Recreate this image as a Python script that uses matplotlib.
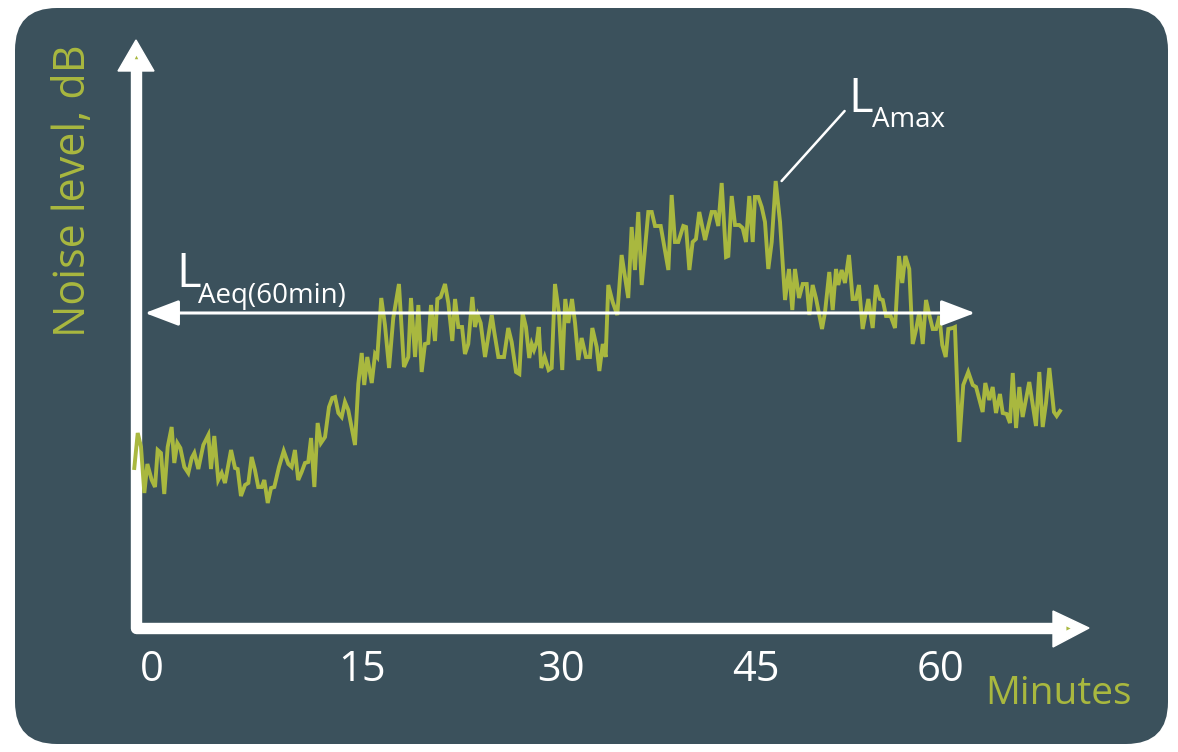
import numpy as np
import matplotlib
matplotlib.use('Agg')
import matplotlib.pyplot as plt
from matplotlib.patches import FancyBboxPatch, Polygon
from matplotlib.transforms import Affine2D, blended_transform_factory

# Noise level readings (minutes, dB)
minutes = [
    -1.19, -0.93, -0.68, -0.43, -0.20, 0.13, 0.38, 0.58, 0.83, 1.08,
    1.34, 1.64, 1.84, 2.07, 2.30, 2.60, 2.90, 3.16, 3.36, 3.66,
    4.04, 4.42, 4.62, 4.87, 5.17, 5.43, 5.68, 6.14, 6.44, 6.64,
    6.89, 7.20, 7.45, 7.70, 7.95, 8.20, 8.46, 8.66, 8.92, 9.17,
    9.42, 9.77, 10.13, 10.48, 10.73, 10.98, 11.23, 11.49, 11.74, 11.99,
    12.20, 12.45, 12.70, 12.95, 13.26, 13.56, 13.81, 14.02, 14.27, 14.52,
    14.77, 15.02, 15.53, 15.78, 16.04, 16.23, 16.46, 16.80, 17.05, 17.22,
    17.52, 17.80, 18.11, 18.43, 18.86, 19.24, 19.57, 19.77, 20.08, 20.33,
    20.58, 20.83, 21.08, 21.29, 21.59, 21.77, 22.02, 22.35, 22.60, 22.90,
    23.11, 23.36, 23.64, 23.86, 24.11, 24.42, 24.62, 24.83, 25.05, 25.38,
    25.89, 26.08, 26.39, 26.82, 27.14, 27.40, 27.73, 27.98, 28.23, 28.48,
    28.73, 28.92, 29.09, 29.30, 29.45, 29.64, 29.90, 30.20, 30.43, 30.68,
    30.98, 31.23, 31.46, 31.69, 31.97, 32.20, 32.45, 32.70, 33.03, 33.33,
    33.51, 33.84, 34.04, 34.30, 34.52, 34.72, 35.05, 35.40, 35.73, 36.23,
    36.49, 36.74, 36.99, 37.25, 37.75, 38.01, 38.26, 38.69, 39.27, 39.52,
    39.77, 40.02, 40.40, 40.61, 40.86, 41.11, 41.36, 41.61, 42.05, 42.55,
    42.80, 43.05, 43.31, 43.64, 43.81, 44.07, 44.32, 44.64, 44.90, 45.15,
    45.40, 45.66, 45.83, 46.08, 46.34, 46.59, 46.84, 47.10, 47.40, 47.73,
    48.11, 48.41, 48.66, 48.86, 49.17, 49.45, 49.75, 49.95, 50.20, 50.45,
    50.91, 51.14, 51.46, 51.72, 51.97, 52.14, 52.40, 52.65, 52.95, 53.23,
    53.48, 53.71, 53.99, 54.42, 54.75, 55.00, 55.30, 55.51, 55.76, 56.11,
    56.44, 56.74, 56.99, 57.22, 57.52, 57.78, 58.03, 58.28, 58.54, 58.79,
    59.04, 59.30, 59.55, 59.80, 60.02, 60.28, 60.48, 60.81, 60.98, 61.31,
    61.61, 61.99, 62.33, 62.58, 63.08, 63.28, 63.58, 63.84, 64.09, 64.39,
    64.60, 64.90, 65.15, 65.36, 65.61, 65.86, 66.11, 66.61, 67.12, 67.37,
    67.63, 67.88, 68.13, 68.48, 68.69, 68.94,
]
level_db = [
    46.2, 49.7, 48.3, 43.7, 46.6, 45.0, 44.3, 48.0, 47.7, 43.6,
    48.3, 50.3, 46.7, 48.7, 48.2, 46.3, 45.7, 47.2, 47.7, 46.1,
    48.5, 49.5, 46.1, 49.4, 45.0, 45.7, 44.7, 48.0, 46.2, 46.1,
    43.4, 44.5, 44.7, 47.3, 46.0, 44.3, 44.3, 45.0, 42.7, 44.2,
    44.3, 46.3, 47.9, 46.6, 46.3, 48.0, 45.0, 45.8, 46.7, 46.8,
    49.2, 44.3, 50.7, 48.7, 49.3, 52.3, 53.2, 53.3, 51.7, 51.3,
    52.8, 52.0, 48.5, 54.6, 57.7, 54.5, 57.3, 54.7, 57.6, 57.3,
    63.2, 60.5, 56.2, 61.2, 64.6, 56.3, 57.3, 63.2, 57.3, 62.5,
    55.8, 58.6, 58.7, 62.5, 58.9, 63.1, 63.3, 64.6, 62.7, 58.9,
    63.1, 60.3, 60.3, 57.6, 58.6, 63.3, 60.3, 61.5, 60.7, 57.3,
    61.5, 59.8, 57.3, 57.3, 60.2, 58.8, 55.8, 55.6, 61.7, 60.3,
    57.2, 58.6, 58.0, 58.8, 60.3, 56.2, 57.3, 56.0, 56.2, 64.6,
    61.7, 56.0, 63.1, 60.7, 63.1, 60.7, 57.0, 59.2, 57.3, 57.3,
    60.2, 58.3, 55.9, 58.6, 57.3, 64.5, 62.8, 61.5, 67.5, 63.2,
    70.3, 66.0, 71.8, 64.5, 71.8, 71.8, 70.4, 70.4, 66.0, 73.5,
    68.8, 68.8, 70.4, 70.3, 66.0, 68.8, 69.1, 71.8, 69.0, 71.8,
    71.8, 70.4, 74.7, 67.3, 67.4, 73.4, 70.5, 70.5, 70.2, 68.8,
    73.4, 68.8, 73.3, 73.3, 72.3, 70.8, 66.1, 68.8, 74.9, 70.8,
    63.0, 66.1, 62.0, 66.1, 63.2, 64.6, 64.6, 61.5, 64.5, 63.2,
    60.1, 61.8, 65.8, 62.0, 66.1, 64.5, 66.0, 64.7, 67.5, 63.1,
    63.1, 64.5, 60.1, 63.1, 60.2, 64.5, 63.1, 63.0, 61.4, 61.4,
    60.2, 67.4, 64.7, 67.4, 66.1, 58.6, 60.0, 61.8, 58.6, 63.0,
    61.5, 60.1, 60.1, 61.4, 58.5, 57.3, 60.1, 60.2, 60.3, 48.8,
    54.5, 55.8, 54.5, 54.3, 51.8, 54.7, 53.0, 54.3, 51.7, 53.6,
    51.7, 51.6, 50.7, 55.7, 50.2, 54.3, 51.3, 54.8, 50.4, 55.8,
    50.3, 52.7, 56.2, 51.8, 51.4, 51.9,
]
laeq_db = 61.7
tick_labels = ['0', '15', '30', '45', '60']
tick_pos = [0.1, 16.1, 31.1, 45.9, 59.9]

bg_color = '#3b515c'
green = '#a9b83f'
W, H = 1178, 752

plt.rcParams['font.family'] = ['Open Sans', 'DejaVu Sans']

fig = plt.figure(figsize=(W / 100, H / 100), dpi=100)
fig.patch.set_facecolor('white')
ax = fig.add_axes([0, 0, 1, 1])
ax.set_xlim(-150 / 13.2, (W - 150) / 13.2)
ax.set_ylim(93 - H / 10, 93)
ax.axis('off')

# pixel coordinates (origin top-left) for the layout pieces
pix = Affine2D().scale(1 / W, -1 / H).translate(0, 1) + fig.transFigure

# rounded panel
panel = FancyBboxPatch((15, 8), 1153, 736, boxstyle='round,pad=0,rounding_size=42',
                       transform=pix, facecolor=bg_color, edgecolor='none', zorder=0, clip_on=False)
ax.add_patch(panel)

# axis arrows
ax.plot([136, 136, 1054], [70, 628, 628], color='white', lw=8.2, solid_joinstyle='round',
        solid_capstyle='butt', transform=pix, zorder=1)
ax.add_patch(Polygon([(118, 71), (154, 71), (136, 40)], closed=True, color='white', transform=pix, zorder=1))
ax.add_patch(Polygon([(1053, 611), (1053, 647), (1089, 628)], closed=True, color='white', transform=pix, zorder=1))
ax.plot([136], [57], marker='^', ms=2.5, color=green, mec='none', transform=pix, zorder=2)
ax.plot([1068], [628], marker='>', ms=3, color=green, mec='none', transform=pix, zorder=2)

# noise curve
ax.plot(minutes, level_db, color=green, lw=2.8, solid_joinstyle='miter', zorder=2)

# LAeq double arrow
ax.annotate('', xy=(62.5, laeq_db), xytext=(-0.38, laeq_db),
            arrowprops=dict(arrowstyle='<|-|>,head_length=21,head_width=8', mutation_scale=1,
                            lw=2.2, color='white', shrinkA=0, shrinkB=0), zorder=3)
ax.text(176, 287, 'L', fontsize=34, color='white', transform=pix, va='baseline', ha='left', zorder=4)
ax.text(198, 303, 'Aeq(60min)', fontsize=20, color='white', transform=pix, va='baseline', ha='left', zorder=4)

# LAmax marker
i_max = int(np.argmax(level_db))
ax.annotate('', xy=(minutes[i_max] + 0.45, level_db[i_max]), xytext=(63, 70), textcoords='offset pixels',
            arrowprops=dict(arrowstyle='-', lw=1.8, color='white', shrinkA=0, shrinkB=0), zorder=3)
ax.text(848, 112, 'L', fontsize=34, color='white', transform=pix, va='baseline', ha='left', zorder=4)
ax.text(872, 127, 'Amax', fontsize=20, color='white', transform=pix, va='baseline', ha='left', zorder=4)

# tick labels and axis titles
tick_tr = blended_transform_factory(ax.transData, pix)
for p, lab in zip(tick_pos, tick_labels):
    ax.text(p, 681, lab, fontsize=30, color='white', ha='center', va='baseline', transform=tick_tr)
ax.text(985, 704, 'Minutes', fontsize=28, color=green, ha='left', va='baseline', transform=pix)
ax.text(74, 191, 'Noise level, dB', fontsize=31, color=green, rotation=90,
        ha='center', va='center', transform=pix)

fig.savefig('out.png', dpi=100, facecolor=fig.get_facecolor())
